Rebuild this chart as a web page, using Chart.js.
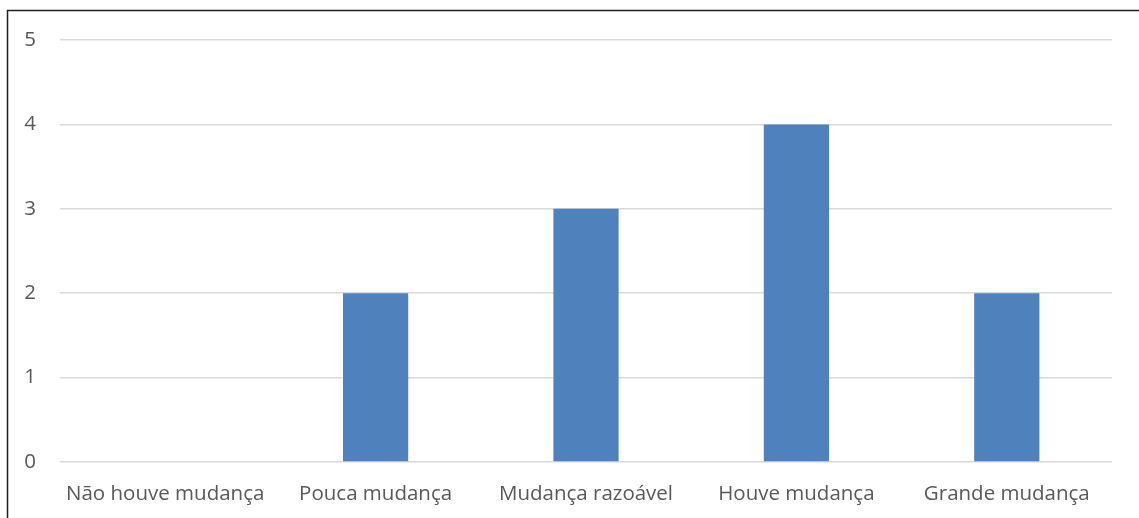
<!DOCTYPE html>
<html>
<head>
<meta charset="utf-8">
<script src="https://cdn.jsdelivr.net/npm/chart.js@4/dist/chart.umd.min.js"></script>
<style>
  html, body { margin: 0; padding: 0; background: #fff; }
  #wrap { width: 1139px; height: 518px; position: relative; }
</style>
</head>
<body>
<div id="wrap"><canvas id="myChart" width="1139" height="518"></canvas></div>
<script>
var categorias = ["Não houve mudança", "Pouca mudança", "Mudança razoável", "Houve mudança", "Grande mudança"];
var respostas = [0, 2, 3, 4, 2];
var ticksY = [0, 1, 2, 3, 4, 5];

// moldura fina à esquerda e em cima
var moldura = {
    id: 'moldura',
    beforeDraw: function(chart) {
        var ctx = chart.ctx;
        ctx.save();
        ctx.strokeStyle = '#1f1f1f';
        ctx.lineWidth = 1.5;
        ctx.beginPath();
        ctx.moveTo(7.5, chart.height);
        ctx.lineTo(7.5, 10.5);
        ctx.lineTo(chart.width, 10.5);
        ctx.stroke();
        ctx.restore();
    }
};

var fonte = "'Open Sans', 'Liberation Sans', sans-serif";

var ctx = document.getElementById('myChart').getContext('2d');
var chart = new Chart(ctx, {
    type: 'bar',
    data: {
        labels: categorias,
        datasets: [{
            label: "Respostas",
            backgroundColor: '#4F81BD',
            borderWidth: 0,
            data: respostas,
            categoryPercentage: 1,
            barPercentage: 0.31
        }]
    },
    plugins: [moldura],
    options: {
        responsive: false,
        animation: false,
        layout: { padding: { top: 40, right: 27, left: 0, bottom: 0 } },
        plugins: {
            legend: { display: false },
            tooltip: { enabled: false }
        },
        scales: {
            x: {
                grid: { display: false },
                border: { display: false },
                ticks: {
                    color: '#595959',
                    padding: 12,
                    maxRotation: 0,
                    font: { family: fonte, size: 20.5 }
                },
                afterFit: function(scale) { scale.height = 518 - 462; }
            },
            y: {
                min: 0,
                max: 5,
                afterBuildTicks: function(scale) {
                    scale.ticks = ticksY.map(function(v) { return { value: v }; });
                },
                grid: { color: '#d9d9d9', lineWidth: 1.5, drawTicks: false },
                border: { display: false },
                ticks: {
                    color: '#595959',
                    padding: 24,
                    font: { family: fonte, size: 20.5 }
                },
                afterFit: function(scale) { scale.width = 60; }
            }
        }
    }
});
</script>
</body>
</html>
